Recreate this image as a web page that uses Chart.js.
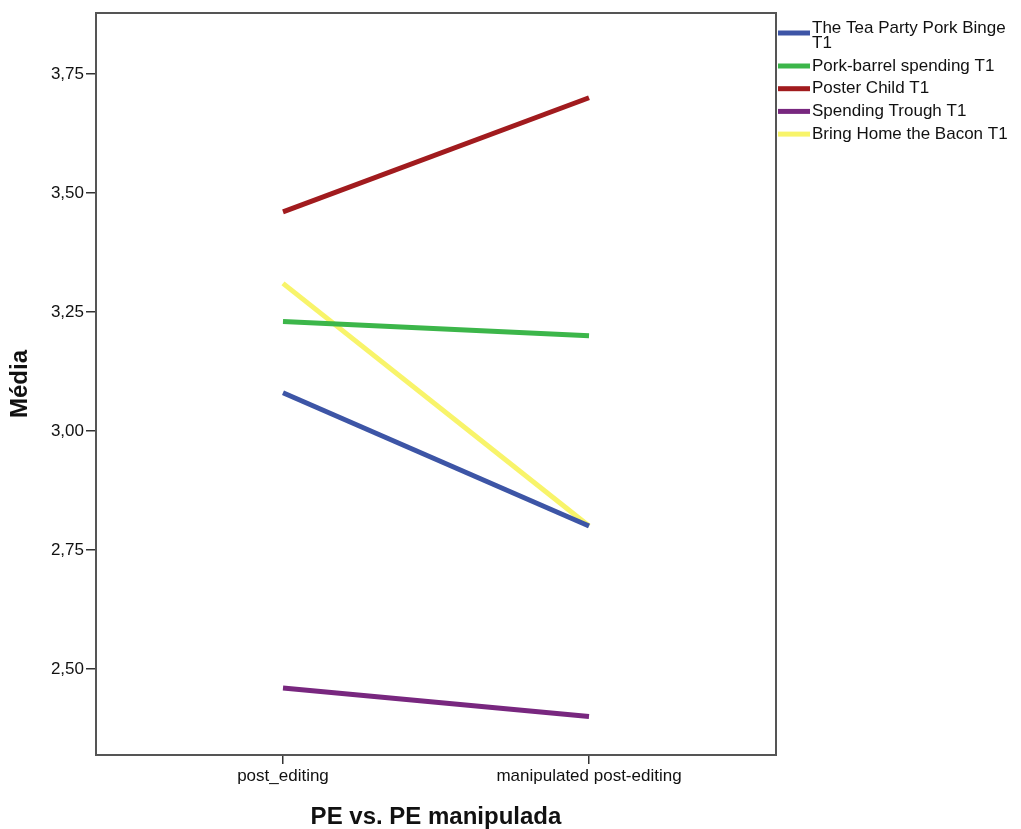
<!DOCTYPE html>
<html>
<head>
<meta charset="utf-8">
<script src="https://cdn.jsdelivr.net/npm/chart.js@4"></script>
<style>
  body { margin: 0; background: #fff; }
  #wrap { width: 1021px; height: 829px; position: relative; }
</style>
</head>
<body>
<div id="wrap"><canvas id="chart"></canvas></div>
<script>
// data
const categories = ["post_editing", "manipulated post-editing"];
const seriesNames = ["The Tea Party Pork Binge T1", "Pork-barrel spending T1", "Poster Child T1", "Spending Trough T1", "Bring Home the Bacon T1"];
const teaParty = [3.08, 2.80];
const porkBarrel = [3.23, 3.20];
const posterChild = [3.46, 3.70];
const spendingTrough = [2.46, 2.40];
const bringHome = [3.31, 2.80];
const yTicks = [2.50, 2.75, 3.00, 3.25, 3.50, 3.75];
const colors = ["#3d55a6", "#3cb64a", "#a11b1e", "#78277f", "#f8f46a"];

const seriesValues = [teaParty, porkBarrel, posterChild, spendingTrough, bringHome];
const FONT = '"Liberation Sans", Arial, sans-serif';

// frame round the plot + the legend at the right
const framePlugin = {
  id: 'frame',
  afterDraw(chart) {
    const ctx = chart.ctx;
    const a = chart.chartArea;
    ctx.save();
    ctx.strokeStyle = '#555';
    ctx.lineWidth = 2;
    ctx.strokeRect(a.left, a.top, a.right - a.left, a.bottom - a.top);

    // legend
    ctx.font = '17px ' + FONT;
    ctx.textBaseline = 'middle';
    ctx.fillStyle = '#111';
    let y = 33;
    chart.data.datasets.forEach((ds, i) => {
      ctx.strokeStyle = ds.borderColor;
      ctx.lineWidth = 5;
      ctx.beginPath();
      ctx.moveTo(a.right + 2, y);
      ctx.lineTo(a.right + 34, y);
      ctx.stroke();
      if (i === 0) {
        ctx.fillText("The Tea Party Pork Binge", a.right + 36, y - 5);
        ctx.fillText("T1", a.right + 36, y + 10);
        y += 33;
      } else {
        ctx.fillText(ds.label, a.right + 36, y);
        y += 22.7;
      }
    });
    ctx.restore();
  }
};

new Chart(document.getElementById('chart'), {
  type: 'line',
  data: {
    datasets: seriesValues.map((vals, i) => ({
      label: seriesNames[i],
      data: vals.map((v, j) => ({ x: j, y: v })),
      borderColor: colors[i],
      backgroundColor: colors[i],
      borderWidth: 5,
      pointRadius: 0,
      tension: 0
    }))
  },
  options: {
    responsive: true,
    maintainAspectRatio: false,
    animation: false,
    layout: { padding: { left: 0, right: 245, top: 13, bottom: 0 } },
    plugins: {
      legend: { display: false },
      tooltip: { enabled: false }
    },
    scales: {
      x: {
        type: 'linear',
        min: -0.611,
        max: 1.611,
        afterBuildTicks(scale) {
          scale.ticks = categories.map((c, i) => ({ value: i }));
        },
        afterFit(scale) { scale.height = 74; },
        border: { display: false },
        grid: { drawOnChartArea: false, color: '#333', tickLength: 9, lineWidth: 1.5 },
        ticks: {
          color: '#111',
          font: { size: 17, family: FONT },
          padding: 2,
          maxRotation: 0,
          callback: (v) => categories[v]
        },
        title: {
          display: true,
          text: 'PE vs. PE manipulada',
          color: '#111',
          font: { size: 24, weight: 'bold', family: FONT, lineHeight: 1 },
          padding: { top: 8, bottom: 0 }
        }
      },
      y: {
        min: 2.319,
        max: 3.878,
        afterBuildTicks(scale) {
          scale.ticks = yTicks.map(v => ({ value: v }));
        },
        afterFit(scale) { scale.width = 96; },
        border: { display: false },
        grid: { drawOnChartArea: false, color: '#333', tickLength: 10, lineWidth: 1.5 },
        ticks: {
          color: '#111',
          font: { size: 17, family: FONT },
          padding: 2,
          callback: (v) => v.toFixed(2).replace('.', ',')
        },
        title: {
          display: true,
          text: 'Média',
          color: '#111',
          font: { size: 24, weight: 'bold', family: FONT, lineHeight: 1 },
          padding: { top: 8, bottom: 0 }
        }
      }
    }
  },
  plugins: [framePlugin]
});
</script>
</body>
</html>
